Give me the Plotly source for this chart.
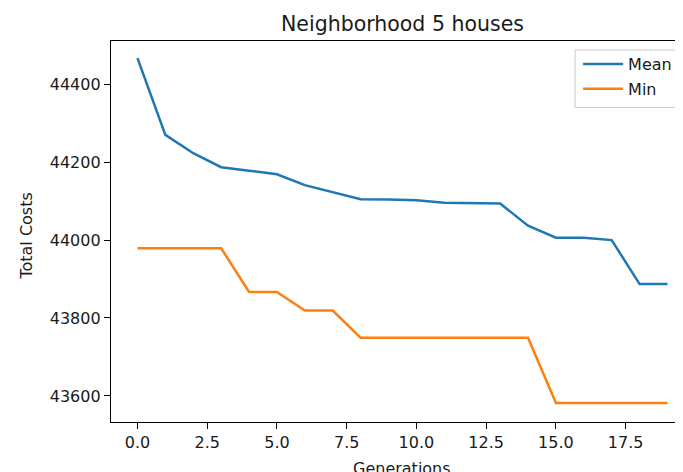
import plotly.graph_objects as go

generations = list(range(20))
mean_costs = [44467, 44270, 44223, 44187, 44178, 44169, 44141, 44123, 44105, 44104,
              44102, 44096, 44095, 44094, 44037, 44006, 44006, 44000, 43887, 43887]
min_costs = [43979, 43979, 43979, 43979, 43867, 43867, 43819, 43819, 43749, 43749,
             43749, 43749, 43749, 43749, 43749, 43582, 43582, 43582, 43582, 43582]
x_tick_vals = [0, 2.5, 5, 7.5, 10, 12.5, 15, 17.5]
x_tick_text = ["0.0", "2.5", "5.0", "7.5", "10.0", "12.5", "15.0", "17.5"]
y_tick_vals = [43600, 43800, 44000, 44200, 44400]
y_tick_text = ["43600", "43800", "44000", "44200", "44400"]

FONT = "DejaVu Sans"
TXT = "#1a1a1a"
OFF = 8  # default body margin of the html page
W, H = 683 - OFF, 472 - OFF
L, T, B = 102.5, 33, 50
plot_w = W - L
plot_h = H - T - B


def px2paper_x(px):
    return (px - OFF - L) / plot_w


def px2paper_y(py):
    return (OFF + T + plot_h - py) / plot_h


fig = go.Figure()
fig.add_trace(go.Scatter(x=generations, y=mean_costs, mode="lines", name="Mean",
                         legendgroup="a", line=dict(color="#1f77b4", width=2.5)))
fig.add_trace(go.Scatter(x=generations, y=min_costs, mode="lines", name="Min",
                         legendgroup="b", line=dict(color="#ff7f0e", width=2.5)))

axis_common = dict(showgrid=False, zeroline=False, showline=True, linecolor="black",
                   linewidth=1.3, ticks="outside", ticklen=6, tickwidth=1.3, tickcolor="black",
                   tickfont=dict(family=FONT, size=16, color=TXT))

axes_center_px = 402

fig.update_layout(
    width=W, height=H,
    margin=dict(l=L, r=0, t=T, b=B, pad=0, autoexpand=False),
    plot_bgcolor="white", paper_bgcolor="white",
    showlegend=True,
    legend=dict(x=px2paper_x(578), y=px2paper_y(47), xanchor="left", yanchor="top",
                borderwidth=0, bgcolor="rgba(255,255,255,0)",
                font=dict(family=FONT, size=16, color=TXT),
                traceorder="grouped", tracegroupgap=1, itemwidth=40),
    xaxis=dict(range=[-0.949, 19.556], tickvals=x_tick_vals, ticktext=x_tick_text,
               mirror=True, **axis_common),
    yaxis=dict(range=[43533, 44511], tickvals=y_tick_vals, ticktext=y_tick_text,
               mirror=False, **axis_common),
    shapes=[
        # legend frame (runs past the cropped right edge like the reference)
        dict(type="rect", xref="paper", yref="paper",
             x0=px2paper_x(575), x1=px2paper_x(700), y0=px2paper_y(107.5), y1=px2paper_y(50),
             line=dict(color="#cccccc", width=1), fillcolor="rgba(255,255,255,0.8)", layer="above"),
    ],
    annotations=[
        dict(text="Neighborhood 5 houses", xref="paper", yref="paper",
             x=px2paper_x(axes_center_px), y=px2paper_y(38), xanchor="center", yanchor="bottom",
             showarrow=False, font=dict(family=FONT, size=20.5, color=TXT)),
        dict(text="Generations", xref="paper", yref="paper",
             x=px2paper_x(axes_center_px), y=px2paper_y(457), xanchor="center", yanchor="top",
             showarrow=False, font=dict(family=FONT, size=16, color=TXT)),
        dict(text="Total Costs", xref="paper", yref="paper",
             x=px2paper_x(25), y=px2paper_y(236), xanchor="center", yanchor="middle",
             textangle=-90, showarrow=False, font=dict(family=FONT, size=16, color=TXT)),
    ],
)

fig.write_html("out.html")
